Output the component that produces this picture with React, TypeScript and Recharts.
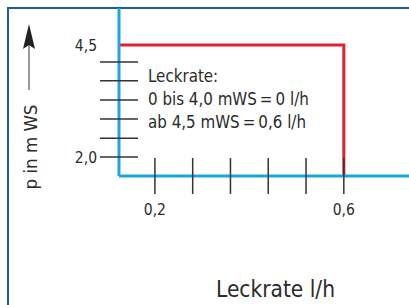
import { CartesianGrid, Customized, Line, LineChart, XAxis, YAxis } from "recharts"

// Leckrate (l/h) vs. pressure (m WS)
const xDomain = [0.124, 0.738]
const yDomain = [1.576, 5.326]
const xTicks = [0.2, 0.28, 0.36, 0.44, 0.52, 0.6]
const xTickLabels: Record<string, string> = { "0.2": "0,2", "0.6": "0,6" }
const yTicks = [2.0, 2.42, 2.85, 3.27, 3.7, 4.12, 4.5]
const yTickLines = [2.0, 2.42, 2.85, 3.27, 3.7, 4.12]
const yTickLabels: Record<string, string> = { "2": "2,0", "4.5": "4,5" }
const leakX = [0.124, 0.6, 0.6]
const leakY = [4.5, 4.5, 1.576]
const noteLines = ["Leckrate:", "0 bis 4,0 mWS\u2009=\u20090 l/h", "ab 4,5 mWS\u2009=\u20090,6 l/h"]

const data = leakX.map((x, i) => ({ x, p: leakY[i] }))

const FONT = "'Liberation Sans Narrow', 'DejaVu Sans Condensed', Roboto, sans-serif"
const TEXT = "#2b2b2b"
const CYAN = "#1ba6df"
const RED = "#e4202f"
const NAVY = "#1a5ca6"

function XTick({ x, y, payload }: any) {
  const label = xTickLabels[String(payload.value)]
  return (
    <g>
      <line x1={x} x2={x} y1={y - 18} y2={y + 18} stroke="#333" strokeWidth={1.5} />
      {label && (
        <text x={x} y={y + 39} textAnchor="middle" fontSize={15.5} fill={TEXT} fontFamily={FONT}>
          {label}
        </text>
      )}
    </g>
  )
}

function YTick({ x, y, payload }: any) {
  const label = yTickLabels[String(payload.value)]
  const hasLine = yTickLines.includes(payload.value)
  return (
    <g>
      {hasLine && <line x1={x - 19} x2={x + 19} y1={y} y2={y} stroke="#333" strokeWidth={1.5} />}
      {label && (
        <text x={x - 22} y={y + 5.5} textAnchor="end" fontSize={15.5} fill={TEXT} fontFamily={FONT}>
          {label}
        </text>
      )}
    </g>
  )
}

function Notes() {
  return (
    <g fontFamily={FONT} fontSize={16.8} fill={TEXT}>
      {noteLines.map((t, i) => (
        <text key={t} x={148} y={82 + i * 23}>
          {t}
        </text>
      ))}
    </g>
  )
}

function PLabel() {
  return (
    <g>
      <line x1={29} x2={29} y1={44} y2={90} stroke="#555" strokeWidth={1.2} />
      <path d="M29 24 L23 49 L29 45 L35 49 Z" fill="#222" />
      <text
        x={0}
        y={0}
        transform="translate(37 147) rotate(-90)"
        textAnchor="middle"
        fontSize={18.5}
        fill={TEXT}
        fontFamily={FONT}
      >
        p in m WS
      </text>
    </g>
  )
}

function XLabel() {
  return (
    <text x={216} y={297} fontSize={22.5} fill={TEXT} fontFamily={FONT}>
      Leckrate l/h
    </text>
  )
}

export default function App() {
  return (
    <div style={{ position: "absolute", left: 0, top: 0, width: 409, height: 305, background: "#fff" }}>
      <div
        style={{
          position: "absolute",
          left: 7,
          top: 7,
          right: 0,
          bottom: 0,
          borderTop: `2px solid ${NAVY}`,
          borderLeft: `2px solid ${NAVY}`,
        }}
      />
      <LineChart
        width={409}
        height={305}
        data={data}
        margin={{ top: 8, right: 0, bottom: 0, left: 0 }}
        style={{ position: "absolute", left: 0, top: 0 }}
      >
        <CartesianGrid stroke="none" />
        <XAxis
          dataKey="x"
          type="number"
          domain={xDomain}
          ticks={xTicks}
          height={129}
          tickSize={0}
          tickMargin={0}
          tickLine={false}
          axisLine={{ stroke: CYAN, strokeWidth: 3 }}
          tick={<XTick />}
          interval={0}
          allowDataOverflow
        />
        <YAxis
          type="number"
          domain={yDomain}
          ticks={yTicks}
          width={119}
          tickSize={0}
          tickMargin={0}
          tickLine={false}
          axisLine={{ stroke: CYAN, strokeWidth: 3 }}
          tick={<YTick />}
          interval={0}
          allowDataOverflow
        />
        <Line
          dataKey="p"
          type="linear"
          stroke={RED}
          strokeWidth={3}
          dot={false}
          isAnimationActive={false}
        />
        <Customized component={<Notes />} />
        <Customized component={<PLabel />} />
        <Customized component={<XLabel />} />
      </LineChart>
    </div>
  )
}
